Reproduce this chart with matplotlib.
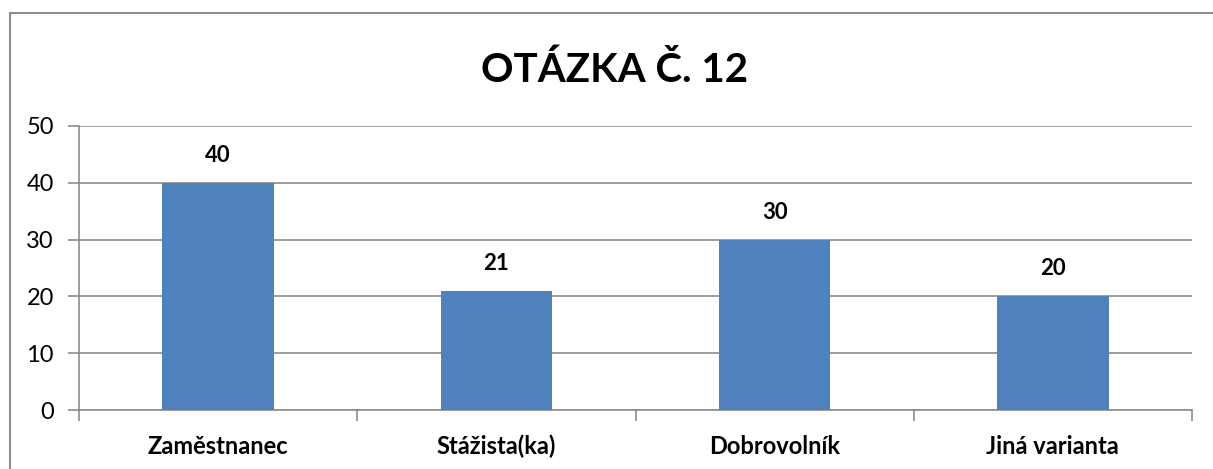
import matplotlib.pyplot as plt
from matplotlib.patches import Rectangle

categories = ["Zaměstnanec", "Stážista(ka)", "Dobrovolník", "Jiná varianta"]
values = [40, 21, 30, 20]
yticks = [0, 10, 20, 30, 40, 50]

plt.rcParams["font.family"] = ["Lato", "DejaVu Sans"]

W, H = 1213, 469
fig = plt.figure(figsize=(W / 100, H / 100), dpi=100)

# outer chart border
fig.patches.append(Rectangle((10 / W, -0.1), 1.2, (H - 13) / H + 0.1,
                             transform=fig.transFigure, fill=False,
                             edgecolor="#8c8c8c", linewidth=1.5))

ax = fig.add_axes([79 / W, (H - 410) / H, (1192 - 79) / W, (410 - 126) / H])

x = range(len(categories))
ax.bar(x, values, width=0.4, color="#4f81bd", zorder=3)
for i, v in zip(x, values):
    ax.text(i, v + 3.0, str(v), ha="center", va="bottom",
            fontsize=16, fontweight="bold")

ax.set_xlim(-0.5, len(categories) - 0.5)
ax.set_ylim(0, 50)
ax.set_yticks(yticks)
ax.set_yticklabels([str(t) for t in yticks], fontsize=17)
ax.yaxis.grid(True, color="#8c8c8c", linewidth=1.2)
ax.set_axisbelow(True)

# category labels between boundary ticks
ax.set_xticks([i + 0.5 for i in range(-1, len(categories))])
ax.set_xticklabels([])
ax.set_xticks(list(x), minor=True)
ax.set_xticklabels(categories, minor=True, fontsize=17, fontweight="bold")
ax.tick_params(axis="x", which="minor", length=0, pad=18)
ax.tick_params(axis="x", which="major", length=8, color="#8c8c8c", width=1.2)
ax.tick_params(axis="y", length=8, color="#8c8c8c", width=1.2, pad=10)

for side in ["top", "right"]:
    ax.spines[side].set_visible(False)
for side in ["left", "bottom"]:
    ax.spines[side].set_color("#8c8c8c")
    ax.spines[side].set_linewidth(1.2)

fig.text(615 / W, 1 - 70 / H, "OTÁZKA Č. 12", ha="center", va="center",
         fontsize=29, fontweight="bold")

fig.savefig("out.png", dpi=100)
